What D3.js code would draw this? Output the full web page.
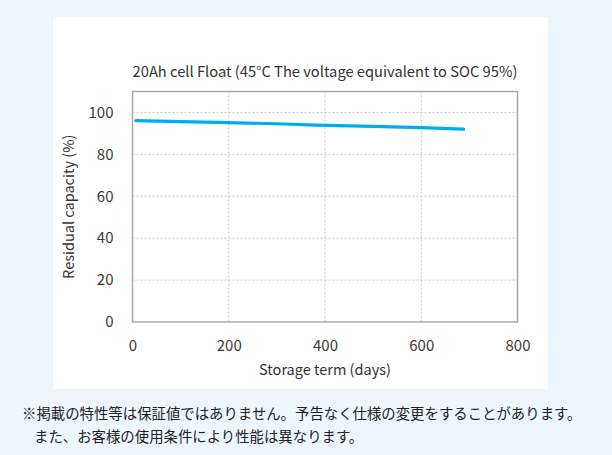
<!DOCTYPE html>
<html>
<head>
<meta charset="utf-8">
<script src="https://cdn.jsdelivr.net/npm/d3@7"></script>
<style>
  html, body { margin: 0; padding: 0; background: #edf5fd; }
  svg { display: block; }
</style>
</head>
<body>
<div id="chart"></div>
<script>
// Residual capacity measured during float storage
var days = [7, 100, 200, 300, 380, 500, 600, 688];
var capacity = [96.1, 95.6, 95.1, 94.6, 94.0, 93.4, 92.8, 92.0];
var xTicks = [0, 200, 400, 600, 800];
var yTicks = [0, 20, 40, 60, 80, 100];
var titleText = "20Ah cell Float (45°C The voltage equivalent to SOC 95%)";
var xLabel = "Storage term (days)";
var yLabel = "Residual capacity (%)";
var notes = [
  "※掲載の特性等は保証値ではありません。予告なく仕様の変更をすることがあります。",
  "また、お客様の使用条件により性能は異なります。"
];

(function () {
  var W = 612, H = 455;
  var font = "'Noto Sans CJK JP', 'Noto Sans', sans-serif";
  var plot = { left: 132.5, right: 517.5, top: 91.5, bottom: 322 };

  var svg = d3.select("#chart").append("svg")
    .attr("width", W).attr("height", H);

  svg.append("rect").attr("width", W).attr("height", H).attr("fill", "#edf5fd");
  // white card
  svg.append("rect")
    .attr("x", 53).attr("y", 17).attr("width", 495).attr("height", 372)
    .attr("fill", "#fff");

  var x = d3.scaleLinear().domain([0, 800]).range([plot.left, plot.right]);
  var y = d3.scaleLinear().domain([0, 110]).range([plot.bottom, plot.top]);

  var g = svg.append("g");

  // grid
  g.selectAll(".vgrid").data(xTicks.slice(1, -1)).join("line")
    .attr("x1", function (d) { return x(d); }).attr("x2", function (d) { return x(d); })
    .attr("y1", plot.top).attr("y2", plot.bottom)
    .attr("stroke", "#c8c8c8").attr("stroke-width", 1).attr("stroke-dasharray", "2,2");
  g.selectAll(".hgrid").data(yTicks.slice(1)).join("line")
    .attr("x1", plot.left).attr("x2", plot.right)
    .attr("y1", function (d) { return y(d); }).attr("y2", function (d) { return y(d); })
    .attr("stroke", "#c8c8c8").attr("stroke-width", 1).attr("stroke-dasharray", "2,2");

  // frame
  g.append("rect")
    .attr("x", plot.left).attr("y", plot.top)
    .attr("width", plot.right - plot.left).attr("height", plot.bottom - plot.top)
    .attr("fill", "none").attr("stroke", "#aaa").attr("stroke-width", 1.5);

  // axes (labels only)
  var xAxis = d3.axisBottom(x).tickValues(xTicks).tickSize(0).tickPadding(18);
  g.append("g").attr("transform", "translate(0," + plot.bottom + ")").call(xAxis)
    .call(function (a) {
      a.select(".domain").remove();
      a.selectAll("text").attr("fill", "#3a3a3a").attr("font-size", 15).attr("font-family", font);
    });
  var yAxis = d3.axisLeft(y).tickValues(yTicks).tickSize(0).tickPadding(19);
  g.append("g").attr("transform", "translate(" + plot.left + ",0)").call(yAxis)
    .call(function (a) {
      a.select(".domain").remove();
      a.selectAll("text").attr("fill", "#3a3a3a").attr("font-size", 15).attr("font-family", font);
    });

  // data line
  var line = d3.line()
    .x(function (d, i) { return x(days[i]); })
    .y(function (d) { return y(d); });
  g.append("path").datum(capacity)
    .attr("d", line)
    .attr("fill", "none").attr("stroke", "#00aeef")
    .attr("stroke-width", 3.2).attr("stroke-linecap", "round");

  // titles
  svg.append("text")
    .attr("x", (plot.left + plot.right) / 2).attr("y", 77)
    .attr("text-anchor", "middle").attr("font-family", font).attr("font-size", 14.7)
    .attr("fill", "#333").text(titleText);
  svg.append("text")
    .attr("x", (plot.left + plot.right) / 2).attr("y", 375)
    .attr("text-anchor", "middle").attr("font-family", font).attr("font-size", 14.5)
    .attr("fill", "#333").text(xLabel);
  svg.append("text")
    .attr("transform", "translate(74," + ((plot.top + plot.bottom) / 2) + ") rotate(-90)")
    .attr("text-anchor", "middle").attr("font-family", font).attr("font-size", 14.5)
    .attr("fill", "#333").text(yLabel);

  // footnote
  svg.selectAll(".note").data(notes).join("text")
    .attr("x", function (d, i) { return i === 0 ? 22 : 34; })
    .attr("y", function (d, i) { return 419 + i * 23; })
    .attr("font-family", font).attr("font-size", 14.4)
    .attr("fill", "#222").text(function (d) { return d; });
})();
</script>
</body>
</html>
